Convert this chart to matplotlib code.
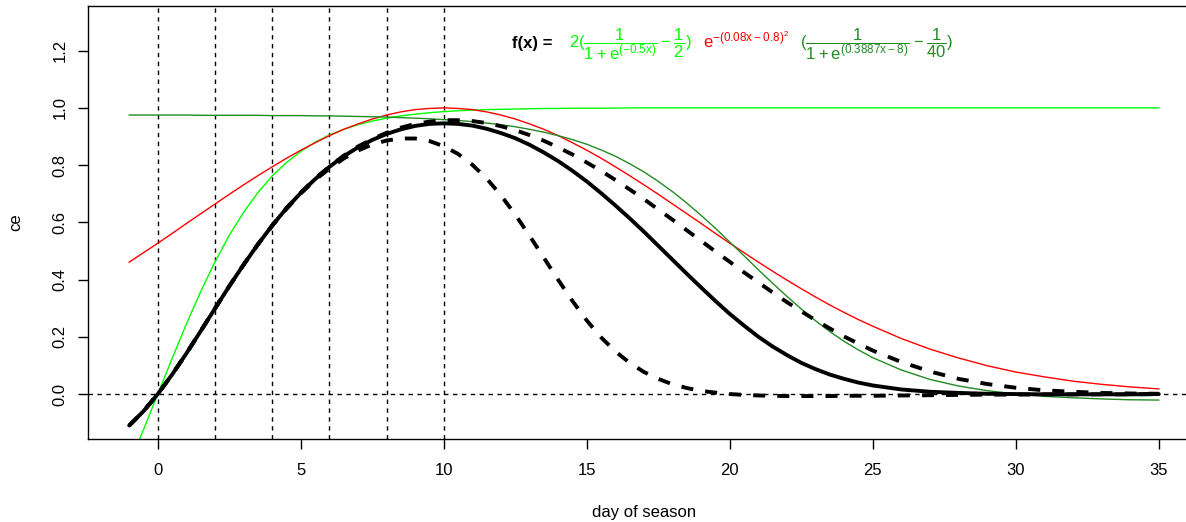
import numpy as np
import matplotlib
matplotlib.use("Agg")
import matplotlib.pyplot as plt

plt.rcParams['font.family'] = ['Liberation Sans', 'DejaVu Sans']
plt.rcParams['mathtext.default'] = 'regular'

# day of season (half days up to 25, whole days after)
days = [-1, -0.5, 0, 0.5, 1, 1.5, 2, 2.5, 3, 3.5,
        4, 4.5, 5, 5.5, 6, 6.5, 7, 7.5, 8, 8.5,
        9, 9.5, 10, 10.5, 11, 11.5, 12, 12.5, 13, 13.5,
        14, 14.5, 15, 15.5, 16, 16.5, 17, 17.5, 18, 18.5,
        19, 19.5, 20, 20.5, 21, 21.5, 22, 22.5, 23, 23.5,
        24, 24.5, 25, 26, 27, 28, 29, 30, 31, 32,
        33, 34, 35]

# 2(1/(1+e^(-0.5x)) - 1/2)   (light green)
rise = [-0.245, -0.124, 0.000, 0.124, 0.245, 0.358, 0.462, 0.555, 0.635, 0.704,
        0.762, 0.809, 0.848, 0.880, 0.905, 0.925, 0.941, 0.954, 0.964, 0.972,
        0.978, 0.983, 0.987, 0.990, 0.992, 0.994, 0.995, 0.996, 0.997, 0.998,
        0.998, 0.999, 0.999, 0.999, 0.999, 1.000, 1.000, 1.000, 1.000, 1.000,
        1.000, 1.000, 1.000, 1.000, 1.000, 1.000, 1.000, 1.000, 1.000, 1.000,
        1.000, 1.000, 1.000, 1.000, 1.000, 1.000, 1.000, 1.000, 1.000, 1.000,
        1.000, 1.000, 1.000]

# e^-(0.08x-0.8)^2   (red)
bell = [0.461, 0.494, 0.527, 0.561, 0.596, 0.630, 0.664, 0.698, 0.731, 0.763,
        0.794, 0.824, 0.852, 0.878, 0.903, 0.925, 0.944, 0.961, 0.975, 0.986,
        0.994, 0.998, 1.000, 0.998, 0.994, 0.986, 0.975, 0.961, 0.944, 0.925,
        0.903, 0.878, 0.852, 0.824, 0.794, 0.763, 0.731, 0.698, 0.664, 0.630,
        0.596, 0.561, 0.527, 0.494, 0.461, 0.429, 0.398, 0.368, 0.339, 0.311,
        0.285, 0.260, 0.237, 0.194, 0.157, 0.126, 0.099, 0.077, 0.060, 0.045,
        0.034, 0.025, 0.018]

# 1/(1+e^(0.3887x-8)) - 1/40   (dark green)
decay = [0.975, 0.975, 0.975, 0.975, 0.975, 0.974, 0.974, 0.974, 0.974, 0.974,
         0.973, 0.973, 0.973, 0.972, 0.972, 0.971, 0.970, 0.969, 0.968, 0.966,
         0.964, 0.962, 0.959, 0.956, 0.952, 0.947, 0.941, 0.934, 0.925, 0.915,
         0.903, 0.889, 0.873, 0.853, 0.831, 0.805, 0.776, 0.743, 0.707, 0.667,
         0.624, 0.579, 0.531, 0.483, 0.434, 0.387, 0.341, 0.297, 0.256, 0.218,
         0.184, 0.154, 0.127, 0.084, 0.051, 0.028, 0.012, 0.000, -0.008, -0.013,
         -0.017, -0.020, -0.021]

# f(x), product of the three   (thick black)
ce = [-0.110, -0.060, 0.000, 0.068, 0.142, 0.220, 0.299, 0.377, 0.452, 0.523,
      0.589, 0.649, 0.703, 0.751, 0.794, 0.831, 0.862, 0.888, 0.909, 0.925,
      0.937, 0.944, 0.946, 0.944, 0.938, 0.927, 0.912, 0.894, 0.871, 0.844,
      0.814, 0.780, 0.743, 0.702, 0.659, 0.614, 0.567, 0.518, 0.469, 0.420,
      0.372, 0.325, 0.280, 0.239, 0.200, 0.166, 0.136, 0.109, 0.087, 0.068,
      0.053, 0.040, 0.030, 0.016, 0.008, 0.004, 0.001, 0.000, -0.001, -0.001,
      -0.001, -0.001, 0.000]

# dashed variants
ce_late = [-0.110, -0.060, 0.000, 0.068, 0.142, 0.220, 0.299, 0.377, 0.452, 0.523,
           0.589, 0.650, 0.704, 0.753, 0.795, 0.833, 0.865, 0.891, 0.913, 0.931,
           0.944, 0.952, 0.957, 0.957, 0.954, 0.947, 0.936, 0.922, 0.905, 0.885,
           0.862, 0.837, 0.809, 0.780, 0.748, 0.715, 0.681, 0.645, 0.609, 0.572,
           0.535, 0.498, 0.462, 0.425, 0.390, 0.355, 0.321, 0.289, 0.258, 0.229,
           0.201, 0.176, 0.152, 0.112, 0.079, 0.053, 0.035, 0.022, 0.013, 0.008,
           0.004, 0.002, 0.001]

ce_early = [-0.110, -0.060, 0.000, 0.068, 0.142, 0.220, 0.299, 0.377, 0.452, 0.523,
            0.588, 0.647, 0.701, 0.748, 0.788, 0.823, 0.851, 0.872, 0.886, 0.893,
            0.893, 0.884, 0.866, 0.839, 0.801, 0.753, 0.694, 0.627, 0.553, 0.476,
            0.399, 0.325, 0.257, 0.198, 0.149, 0.109, 0.077, 0.053, 0.034, 0.021,
            0.011, 0.005, 0.000, -0.003, -0.005, -0.006, -0.007, -0.007, -0.007, -0.007,
            -0.006, -0.006, -0.006, -0.005, -0.004, -0.003, -0.002, -0.002, -0.001, -0.001,
            -0.001, -0.001, 0.000]

vlines = [0, 2, 4, 6, 8, 10]

W, H = 1186, 522
fig = plt.figure(figsize=(W / 100, H / 100), dpi=100)
ax = fig.add_axes([88 / W, 1 - 438.7 / H, 1112 / W, 432.7 / H])

thin_dash = dict(color='black', lw=1.0, dashes=(3.2, 3.2))
for v in vlines:
    ax.axvline(v, **thin_dash)
ax.axhline(0, **thin_dash)

ax.plot(days, rise, color='#00ff00', lw=1.0)
ax.plot(days, bell, color='#ff0000', lw=1.0)
ax.plot(days, decay, color='#228b22', lw=1.0)

ax.plot(days, ce, color='black', lw=2.8, solid_capstyle='round', solid_joinstyle='round')
ax.plot(days, ce_late, color='black', lw=2.8, dashes=(3.1, 3.1))
ax.plot(days, ce_early, color='black', lw=2.8, dashes=(3.1, 3.1))

ax.set_xlim(-2.44, 36.44)
ax.set_ylim(-0.156, 1.356)
ax.set_xticks([0, 5, 10, 15, 20, 25, 30, 35])
ax.set_yticks([0.0, 0.2, 0.4, 0.6, 0.8, 1.0, 1.2])
ax.set_yticklabels(['0.0', '0.2', '0.4', '0.6', '0.8', '1.0', '1.2'])
ax.tick_params(axis='both', direction='out', length=7.2, width=1.0, labelsize=12)
ax.tick_params(axis='x', pad=10)
ax.tick_params(axis='y', pad=7.5)
plt.setp(ax.get_yticklabels(), rotation=90, va='center')
for s in ax.spines.values():
    s.set_linewidth(1.0)

fig.text(15.5 / W, 1 - 222 / H, 'ce', rotation=90, ha='center', va='center', fontsize=12)
fig.text(644 / W, 1 - 512 / H, 'day of season', ha='center', va='center', fontsize=12)

# formula
fig.text(512 / W, 1 - 48 / H, 'f(x) =', fontsize=12, fontweight='bold', va='baseline')
fig.text(569 / W, 1 - 48 / H, r'$2(\dfrac{1}{1+e^{(-0.5x)}}-\dfrac{1}{2})$',
         color='#00ff00', fontsize=12, va='baseline')
fig.text(703 / W, 1 - 48 / H, r'$e^{-(0.08x-0.8)^2}$',
         color='#ff0000', fontsize=12, va='baseline')
fig.text(800 / W, 1 - 48 / H, r'$(\dfrac{1}{1+e^{(0.3887x-8)}}-\dfrac{1}{40})$',
         color='#228b22', fontsize=12, va='baseline')

fig.savefig('out.png', dpi=100)
